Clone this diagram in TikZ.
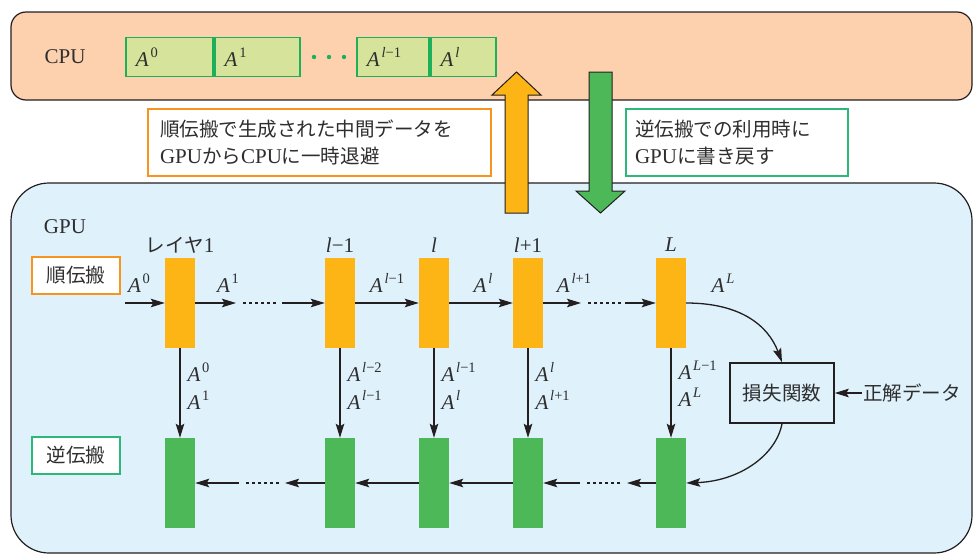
\documentclass[tikz,border=0pt]{standalone}
\usepackage{fontspec}
\setmainfont{Liberation Serif}
\newfontfamily\jp[Scale=0.93]{Noto Sans CJK JP}
\usetikzlibrary{arrows.meta}
\definecolor{cpufill}{HTML}{FDD0AE}
\definecolor{gpufill}{HTML}{DFF1FB}
\definecolor{fwd}{HTML}{FDB515}
\definecolor{bwd}{HTML}{4DB857}
\definecolor{datafill}{HTML}{D5E39B}
\definecolor{databord}{HTML}{1DAF5A}
\definecolor{obord}{HTML}{F7941D}
\definecolor{gbord}{HTML}{2DB87A}
\definecolor{ink}{HTML}{231F20}
\definecolor{txt}{HTML}{2E2E2E}
\newcommand\Asup[1]{\textit{A}\kern1.8pt\raisebox{0.42em}{\fontsize{14.5}{15}\selectfont #1}}
\newcommand\il{\textit{l}}
\begin{document}
\begin{tikzpicture}[x=1pt,y=-1pt,
  every node/.style={font=\fontsize{21}{27}\selectfont, text=txt},
  fblock/.style={fill=fwd, minimum width=30pt, minimum height=90pt, inner sep=0pt},
  bblock/.style={fill=bwd, minimum width=30pt, minimum height=90pt, inner sep=0pt},
  conn/.style={draw=ink, line width=1.3pt, -{Stealth[length=14pt,width=8.5pt,inset=2.5pt]}},
  dotline/.style={draw=ink, line width=1.3pt, dash pattern=on 3pt off 3pt},
  databox/.style={draw=databord, fill=datafill, line width=1.8pt, minimum height=39pt,
    inner xsep=10pt, inner ysep=0pt, align=left, anchor=west},
  tbox/.style={fill=white, line width=1.3pt, minimum height=67pt, align=left, inner ysep=0pt},
  lbox/.style={fill=white, line width=2pt, minimum width=88pt, minimum height=37pt, inner sep=0pt},
  bigarrow/.style={draw=ink, line width=1pt, line join=miter}]
\useasboundingbox (0,0) rectangle (973,554);

% CPU region
\draw[fill=cpufill, draw=ink, line width=1.2pt, rounded corners=15pt] (11,12) rectangle (972,100);
\node (cpu) at (65,57) {CPU};
\node[databox, text width=67pt] (d0) at (125,57) {\Asup{0}};
\node[databox, text width=65pt] (d1) at (d0.east) {\Asup{1}};
\fill[databord] (314,57) circle (2.2pt) (329,57) circle (2.2pt) (344,57) circle (2.2pt);
\node[databox, text width=52pt] (dl1) at (356,57) {\Asup{\il−1}};
\node[databox, text width=45pt] (dl) at (dl1.east) {\Asup{\il}};

% GPU region
\draw[fill=gpufill, draw=ink, line width=1.2pt, rounded corners=38pt] (11,183) rectangle (972,553);

% notes
\node[tbox, draw=obord, text width=319pt, inner xsep=12pt] (note1) at (319.5,142.5)
  {{\jp 順伝搬で生成された中間データを}\\GPU{\jp から}CPU{\jp に一時退避}};
\node[tbox, draw=gbord, text width=204pt, inner xsep=9pt] (note2) at (737,142.5)
  {{\jp 逆伝搬での利用時に}\\GPU{\jp に書き戻す}};

% big transfer arrows
\draw[bigarrow, fill=fwd] (516.5,72) -- (541,95) -- (528,95) -- (528,213) -- (505,213) -- (505,95) -- (492,95) -- cycle;
\draw[bigarrow, fill=bwd] (589,72) -- (612,72) -- (612,191) -- (625,191) -- (600.5,213) -- (576,191) -- (589,191) -- cycle;

% GPU contents
\node (gpu) at (65,227) {GPU};
\node[lbox, draw=obord] (fwdlbl) at (76,275.5) {\jp 順伝搬};
\node[lbox, draw=gbord] (bwdlbl) at (76,455) {\jp 逆伝搬};

\node[fblock] (f1) at (180,303) {};
\node[fblock] (f2) at (340,303) {};
\node[fblock] (f3) at (434,303) {};
\node[fblock] (f4) at (528,303) {};
\node[fblock] (f5) at (671,303) {};
\node[bblock] (b1) at (180,483) {};
\node[bblock] (b2) at (340,483) {};
\node[bblock] (b3) at (434,483) {};
\node[bblock] (b4) at (528,483) {};
\node[bblock] (b5) at (671,483) {};

% layer labels
\node (t1) at (180,245) {\jp レイヤ\rmfamily 1};
\node (t2) at (340,245) {\il−1};
\node (t3) at (434,245) {\il};
\node (t4) at (528,245) {\il+1};
\node (t5) at (671,245) {\textit{L}};

% forward pass
\coordinate (in) at (125,303);
\draw[conn] (in) -- (f1.west);
\coordinate (fa1) at (236,303);
\draw[conn] (f1.east) -- (fa1);
\coordinate (fd1s) at (243,303); \coordinate (fd1e) at (276,303);
\draw[dotline] (fd1s) -- (fd1e);
\coordinate (fb1) at (282,303);
\draw[conn] (fb1) -- (f2.west);
\draw[conn] (f2.east) -- (f3.west);
\draw[conn] (f3.east) -- (f4.west);
\coordinate (fa2) at (581,303);
\draw[conn] (f4.east) -- (fa2);
\coordinate (fd2s) at (588,303); \coordinate (fd2e) at (621,303);
\draw[dotline] (fd2s) -- (fd2e);
\coordinate (fb2) at (625,303);
\draw[conn] (fb2) -- (f5.west);

\node (la0) at (139,283) {\Asup{0}};
\node (la1) at (228,283) {\Asup{1}};
\node (la2) at (387,283) {\Asup{\il−1}};
\node (la3) at (483,283) {\Asup{\il}};
\node (la4) at (574,283) {\Asup{\il+1}};
\node (la5) at (723,283) {\Asup{\textit{L}}};

% loss
\node[draw=ink, line width=1.5pt, minimum width=104pt, minimum height=60pt] (loss) at (782,393) {\jp 損失関数};
\node[inner xsep=1pt] (truth) at (912,393) {\jp 正解データ};
\draw[conn] (truth.west) -- (loss.east);
\draw[conn] (f5.east) .. controls (740,303) and (768,325) .. (loss.north);
\draw[conn] (loss.south) .. controls (776,455) and (740,481) .. (b5.east);

% saved activations
\foreach \i in {1,...,5} { \draw[conn] (f\i.south) -- (b\i.north); }
\node[anchor=west] (s1a) at (184,372) {\Asup{0}};
\node[anchor=west] (s1b) at (184,400) {\Asup{1}};
\node[anchor=west] (s2a) at (344,372) {\Asup{\il−2}};
\node[anchor=west] (s2b) at (344,400) {\Asup{\il−1}};
\node[anchor=west] (s3a) at (438,372) {\Asup{\il−1}};
\node[anchor=west] (s3b) at (438,400) {\Asup{\il}};
\node[anchor=west] (s4a) at (532,372) {\Asup{\il}};
\node[anchor=west] (s4b) at (532,400) {\Asup{\il+1}};
\node[anchor=west] (s5a) at (675,370) {\Asup{\textit{L}−1}};
\node[anchor=west] (s5b) at (675,397) {\Asup{\textit{L}}};

% backward pass
\coordinate (ba1) at (627,483);
\draw[conn] (b5.west) -- (ba1);
\coordinate (bd1s) at (620,483); \coordinate (bd1e) at (586,483);
\draw[dotline] (bd1s) -- (bd1e);
\coordinate (bb1) at (580,483);
\draw[conn] (bb1) -- (b4.east);
\draw[conn] (b4.west) -- (b3.east);
\draw[conn] (b3.west) -- (b2.east);
\coordinate (ba2) at (285,483);
\draw[conn] (b2.west) -- (ba2);
\coordinate (bd2s) at (279,483); \coordinate (bd2e) at (243,483);
\draw[dotline] (bd2s) -- (bd2e);
\coordinate (bb2) at (239,483);
\draw[conn] (bb2) -- (b1.east);
\end{tikzpicture}
\end{document}
